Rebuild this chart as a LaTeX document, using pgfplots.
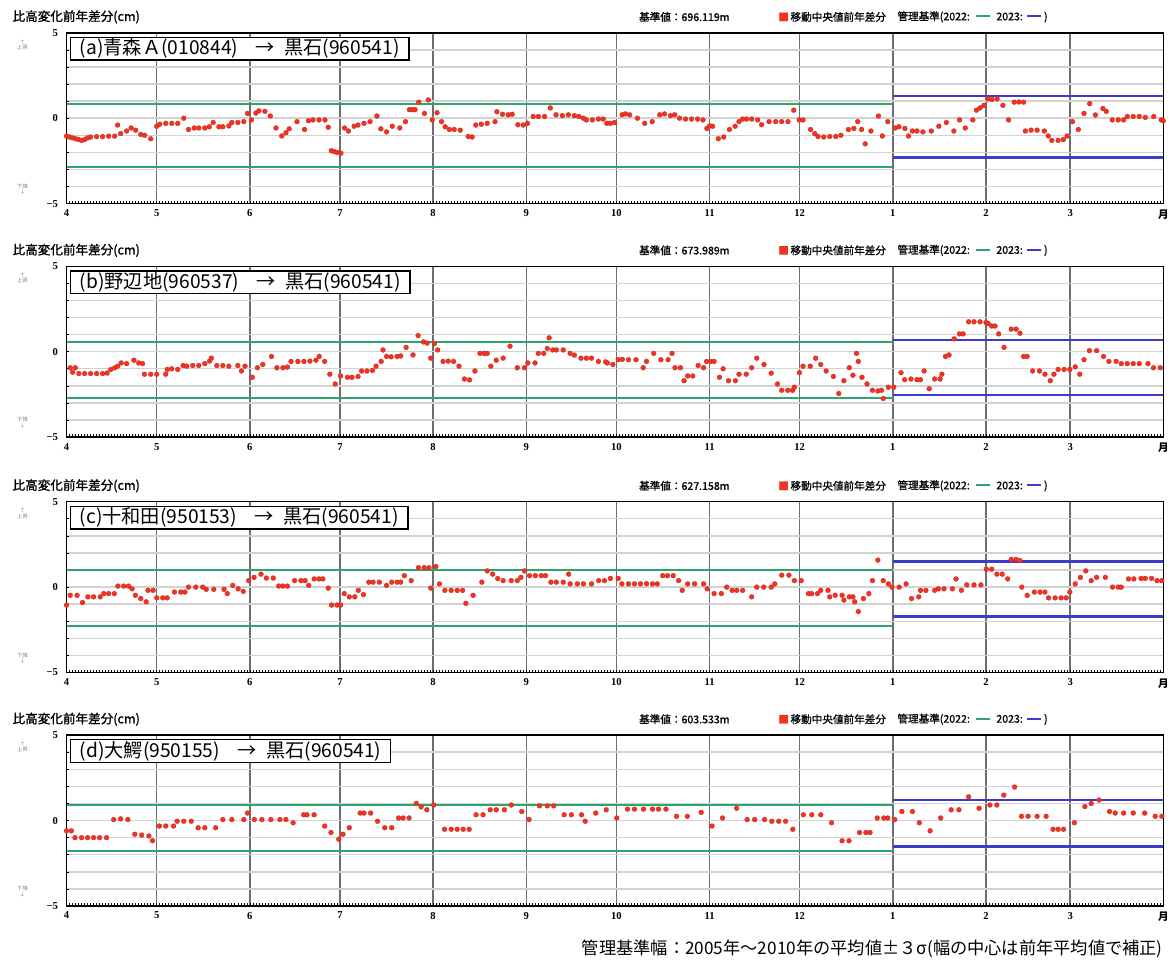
\documentclass[border=0pt]{standalone}
\usepackage{fontspec}
\setmainfont{Liberation Serif}
\newfontfamily\jp{Noto Sans CJK JP}
\newfontfamily\jpb{Noto Sans CJK JP}[FakeBold=1.2]
\usepackage{pgfplots}
\pgfplotsset{compat=1.18}
\usepackage{pgfplotstable}

\definecolor{dotred}{HTML}{F23222}
\definecolor{limgreen}{HTML}{2FA56E}
\definecolor{limblue}{HTML}{3C3CCC}
\definecolor{monthgray}{HTML}{6E6E6E}
\definecolor{hgrid}{HTML}{D2D2D2}

% day 0 = 1 April, 365 = end of March
\pgfplotstableread{
d v
0 -1.05
1 -1.1
2 -1.15
3 -1.2
4 -1.25
5 -1.3
6 -1.25
7 -1.15
8 -1.1
10 -1.08
12 -1.08
14 -1.05
16 -1.05
17 -0.4
18 -0.9
20 -0.75
21.5 -0.57
23 -0.7
24.7 -0.95
26 -1.0
28 -1.2
30 -0.47
31 -0.35
33 -0.3
35 -0.3
37 -0.3
39 0
40.6 -0.66
42.5 -0.57
44 -0.57
46 -0.57
47.5 -0.5
48.8 -0.25
50.7 -0.5
52 -0.5
54 -0.45
55 -0.25
57 -0.25
59 -0.2
60.2 0.28
61.5 -0.1
63 0.3
64 0.43
66 0.4
67.8 0.13
69.7 -0.57
71.6 -1.04
73 -0.85
74.1 -0.62
76.7 -0.2
79.2 -0.66
80.5 -0.15
82 -0.1
84 -0.1
86 -0.1
87.1 -0.53
88.1 -1.9
89 -1.95
90 -2.0
91.3 -2.05
92.5 -0.57
93.8 -0.75
95.7 -0.47
97 -0.4
99 -0.3
101 -0.2
103.3 0.13
104.6 -0.62
106.5 -0.8
108.4 -0.47
110.9 -0.57
112.8 -0.2
114.1 0.5
115 0.5
116 0.5
117.2 0.94
119.1 0.28
120.4 1.07
121.7 -0.1
123.3 0.32
124.8 -0.2
126 -0.5
127.4 -0.66
129 -0.66
131 -0.7
133.7 -1.07
135 -1.1
136.2 -0.4
138 -0.35
140 -0.3
142.6 -0.2
143.2 0.38
145.1 0.23
147 0.2
148.3 0.23
150.2 -0.38
152 -0.4
153.4 -0.3
155.3 0.1
157 0.1
159.1 0.1
161 0.6
162.9 0.2
165 0.15
167 0.2
169 0.15
170.5 0.1
172 0
173 -0.1
175 -0.1
177 -0.05
178.6 -0.05
179.8 -0.3
181 -0.3
182.4 -0.25
184.9 0.2
186 0.25
187.4 0.2
190 0
192.4 -0.3
194.9 -0.2
197.4 0.2
199 0.25
201 0.15
202.4 0.2
204 0
206 -0.05
208 -0.05
210 -0.05
211.8 -0.1
213.1 -0.6
214 -0.45
215 -0.47
216.9 -1.2
218.7 -1.1
220.6 -0.66
222.5 -0.47
223.8 -0.2
225 -0.05
226.3 -0.05
228 -0.05
230 -0.1
231.3 -0.38
233.8 -0.2
236 -0.2
238 -0.2
240.1 -0.2
242 0.47
243.8 -0.1
245.1 -0.1
247.6 -0.66
249 -0.9
250.1 -1.07
252 -1.1
254 -1.07
256 -1.07
257.7 -1.0
260.2 -0.66
262 -0.6
263.3 -0.2
264.6 -0.66
265.8 -1.5
267.7 -0.75
270.2 0.13
271.5 -1.04
273.3 -0.2
275.8 -0.57
277 -0.5
279 -0.6
280.2 -1.04
281.5 -0.75
283 -0.75
285 -0.8
287.8 -0.75
290.3 -0.47
292.8 -0.25
295.3 -0.75
297.2 -0.1
299.1 -0.57
301.6 -0.1
302.8 0.47
304 0.6
305.3 0.75
306.6 1.13
308 1.1
309.7 1.13
311.6 0.75
313.5 -0.1
315.4 0.94
317 0.95
318.5 0.94
319.1 -0.75
321 -0.7
323 -0.7
325.4 -0.75
326.7 -1.04
327.9 -1.3
330 -1.3
331.7 -1.25
333 -1.04
334.8 -0.2
336.7 -0.66
338.6 0.28
340.5 0.85
342.4 0.19
344.9 0.57
346 0.4
348 -0.1
350 -0.1
351.8 -0.1
353 0.1
355 0.1
357 0.1
359 0.05
361.8 0.1
364.3 -0.1
365 -0.15
}\dataa

\pgfplotstableread{
d v
1.2 -0.94
2 -1.2
2.9 -0.94
4.1 -1.28
6 -1.28
8 -1.28
10 -1.28
12 -1.28
13.5 -1.25
14.7 -1.04
16 -0.95
17 -0.85
18.2 -0.66
20 -0.7
22.4 -0.5
24 -0.66
25.3 -0.7
25.9 -1.32
28 -1.32
30 -1.32
33 -1.32
33.5 -1.04
35 -1.0
37 -1.04
38.8 -0.81
40 -0.85
42 -0.81
44 -0.81
46 -0.7
47.6 -0.55
48.2 -0.38
50 -0.81
52 -0.81
54 -0.85
57 -0.81
58.2 -1.13
59.4 -0.85
61.8 -1.5
63.5 -0.94
65.3 -0.75
68.2 -0.28
70 -0.94
72 -0.94
73.5 -0.9
74.7 -0.57
77 -0.57
79 -0.57
81 -0.55
83 -0.5
84.1 -0.28
85.9 -0.57
87.6 -1.32
89.4 -1.89
91.2 -1.42
93.5 -1.5
95 -1.5
97 -1.45
98.2 -1.13
100 -1.13
101.8 -1.1
103 -0.85
104.7 -0.57
105.3 0.1
106.5 -0.28
108 -0.3
110 -0.28
111.2 -0.25
113 0.25
115.3 -0.19
117 0.94
118.8 0.57
120 0.5
121.2 -0.38
122.4 0.47
123.5 0.1
125.3 -0.57
127 -0.55
128.8 -0.57
130.6 -0.85
132.4 -1.6
134.1 -1.65
135.9 -1.13
137.6 -0.1
139 -0.1
140 -0.1
141.2 -0.85
143 -0.5
145.3 -0.38
147.6 0.32
150 -0.94
152.4 -0.94
153.5 -0.66
155.9 -0.66
157 -0.1
158.8 -0.1
160 0.19
160.6 0.81
161.8 0.1
163 0.1
165.3 0.1
167.6 -0.1
169 -0.2
171.2 -0.38
173 -0.38
174.7 -0.38
177 -0.57
179.4 -0.6
180 -0.66
181.8 -0.75
183.6 -0.47
185 -0.45
187 -0.47
189.5 -0.47
191.9 -0.94
193 -0.57
195.4 -0.1
197.8 -0.47
200.2 -0.47
201.5 -0.1
202.5 -0.94
204.3 -0.94
205.5 -1.7
206.7 -1.42
208.4 -1.42
210.2 -0.81
212 -0.94
213 -0.57
214.4 -0.57
215.5 -0.57
217.3 -1.5
218.5 -1.0
220.3 -1.7
222.6 -1.7
223.8 -1.32
226.2 -1.32
228 -0.94
229.7 -0.38
232.1 -0.75
234.5 -1.26
236.6 -1.89
238 -2.26
240 -2.26
241.6 -2.26
242.2 -2.08
243.9 -1.23
245.1 -0.85
247.5 -0.85
249.3 -0.38
251 -0.75
252.8 -1.13
255.2 -1.45
257 -2.45
258.7 -1.7
260.5 -0.94
261.7 -1.38
262.9 -0.1
263.5 -0.57
264.7 -1.5
266.4 -1.89
268.2 -2.26
270 -2.3
271.2 -2.26
271.8 -2.74
273.5 -2.08
275.3 -2.08
277.7 -1.23
278.9 -1.64
281 -1.6
283 -1.64
284.2 -1.64
285.4 -1.13
287.1 -2.17
288.9 -1.6
290.7 -1.6
291.3 -1.32
292.5 -0.28
293.7 -0.19
295.4 0.75
297.2 1.04
298.4 1.04
300.2 1.75
302 1.75
304 1.75
306 1.7
306.7 1.65
307.9 1.5
309 1.5
310.2 1.04
312 0.25
314.4 1.32
316 1.32
317.3 1.08
318.5 -0.28
319.7 -0.28
321.5 -1.13
323.8 -1.13
325.6 -1.32
327.4 -1.7
328.6 -1.32
330 -1.04
332 -1.04
333.9 -1.04
335.7 -0.89
337.2 -1.32
338.6 -0.47
340.4 0.06
342.8 0.06
345.1 -0.28
346.9 -0.57
349.3 -0.57
351 -0.7
353 -0.7
355 -0.7
357 -0.7
359.9 -0.7
361.7 -0.94
364 -0.94
}\datab

\pgfplotstableread{
d v
0 -1.05
1.2 -0.48
3.5 -0.48
5.3 -0.9
7.1 -0.57
9 -0.57
11.2 -0.57
12.4 -0.38
14 -0.38
15.9 -0.38
17.1 0.06
19 0.06
20.6 0.06
21.8 -0.1
22.9 -0.48
24.7 -0.67
26.5 -0.86
27.1 -0.19
28.8 -0.19
30 -0.63
32 -0.63
33.5 -0.63
35.9 -0.29
38 -0.29
39.4 -0.29
40.6 0
43 0
45.3 0
46.5 -0.13
49 -0.13
52.4 -0.13
53.5 -0.38
55.3 0.1
57.1 -0.1
58.8 -0.25
60.6 0.38
62.4 0.57
64.7 0.76
66.5 0.53
68.8 0.53
70.6 0.06
72 0.06
73.5 0.06
75.9 0.38
78 0.38
79.4 0.38
80.6 0.1
82.4 0.48
84 0.48
85.3 0.48
87.1 -0.06
88.2 -1.05
90 -1.05
91.2 -1.05
92.4 -0.38
94.1 -0.57
95.9 -0.57
97.1 -0.19
98.8 -0.44
100.6 0.29
102 0.29
104.1 0.29
106.5 0.1
108.2 0.29
110 0.29
111.2 0.29
112.4 0.67
114.7 0.38
117.1 1.14
119 1.14
120.6 1.14
121.2 -0.06
122.9 1.2
124.1 0.19
125.9 -0.19
128 -0.19
130 -0.19
131.8 -0.19
132.9 -0.95
135.3 -0.48
138.2 0.29
140 0.95
141.8 0.76
143.5 0.5
145.3 0.38
148 0.38
150 0.38
151.2 0.57
152.4 0.95
154.1 0.67
156 0.67
158 0.67
159.4 0.67
161.2 0.29
163 0.29
165.3 0.29
167.1 0.76
167.6 0.19
170 0.19
172 0.19
174.7 0.19
177.1 0.38
179 0.38
181 0.51
183.6 0.51
184.8 0.19
187 0.19
189 0.19
191 0.19
193 0.2
195 0.19
196.6 0.19
198.4 0.67
200 0.67
201.9 0.67
203.7 0.38
204.9 -0.19
206.7 0.19
209 0.19
212 0.19
213.2 -0.1
215.5 -0.38
217.9 -0.38
219.7 0
221.5 -0.19
223 -0.19
225 -0.19
228 -0.57
229.7 0
232 0
234.5 0
235.7 0.19
238 0.7
240.4 0.7
242.2 0.38
244.5 0.38
246.9 -0.38
248 -0.38
249.9 -0.38
251 -0.19
253.4 -0.19
254 -0.57
255.8 -0.48
258.1 -0.48
258.7 -0.76
260.5 -0.57
261.7 -0.57
262.3 -0.86
263.5 -1.43
265.2 -0.67
267 -0.38
268.2 0.38
270 1.58
271.8 0.38
273.5 0.19
274.7 0
277.1 0
279.4 0.19
281.2 -0.67
283.6 -0.57
284.2 -0.19
286 -0.19
288.9 -0.19
290.1 -0.1
292 -0.1
294.8 -0.1
296 0.48
297.8 -0.19
299.6 0.13
302 0.13
304.3 0.13
306.1 1.05
307.9 1.05
309.6 0.76
311.4 0.76
313.2 0.48
314.4 1.62
316 1.62
317.3 1.55
317.9 0
319.7 -0.48
322.1 -0.29
324 -0.29
325.6 -0.29
326.8 -0.63
329 -0.63
331 -0.63
332.7 -0.63
333.9 -0.29
335.7 0.19
337.4 0.57
339.2 0.95
341 0.38
342.8 0.57
345.7 0.57
348.1 0
350 0
351 0
353.4 0.48
355.2 0.48
357.6 0.51
359 0.51
361.1 0.51
362.9 0.38
364.5 0.38
}\datac

\pgfplotstableread{
d v
0 -0.6
1.6 -0.6
2.8 -1.0
5 -1.0
7 -1.0
9 -1.0
11 -1.0
13.3 -1.0
15.7 0.06
18 0.1
20.4 0.06
22.7 -0.8
25 -0.85
27.4 -0.9
28.6 -1.18
30.9 -0.32
33 -0.32
35.6 -0.32
36.8 -0.04
39 -0.04
41.5 -0.04
43.8 -0.42
46 -0.42
49.6 -0.42
52 0.06
55 0.06
59 0.06
60.2 0.44
62.5 0.06
65 0.06
68 0.06
71 0.06
73 0.06
75.4 -0.13
78.9 0.34
80 0.34
82.4 0.34
85.9 -0.32
88 -0.7
90.6 -1.09
92 -0.8
94.1 -0.42
97.7 0.44
99 0.44
101.2 0.44
103.5 -0.04
105.9 -0.42
108.2 -0.42
110.5 0.15
112 0.15
114 0.15
116.4 1.0
118 0.8
119.9 0.63
122.2 0.91
125.8 -0.51
128 -0.51
130 -0.51
132 -0.51
134 -0.51
136.3 0.34
138.6 0.34
141 0.63
143 0.63
145.7 0.63
148 0.91
151.5 0.53
153.9 0.06
157.4 0.86
160 0.86
162.1 0.86
165.6 0.34
168 0.34
171.4 0.34
172.6 -0.04
176.1 0.44
179.6 0.63
183.1 0.15
186.7 0.67
189 0.67
192 0.67
195 0.67
197 0.67
199.5 0.67
203 0.25
206.6 0.25
211.2 0.48
214.8 -0.32
218.3 0.15
223 0.72
226.5 0.06
229 0.06
232.3 0.06
234.7 -0.04
237 -0.04
239.3 -0.04
241.7 -0.51
245.2 0.34
248 0.34
251 0.34
254.6 -0.13
258.1 -1.18
260.4 -1.18
263.9 -0.7
266 -0.7
267.4 -0.7
269.8 0.15
272 0.15
273.3 0.15
275.6 0.06
278 0.53
281.5 0.53
283.8 -0.13
287.4 -0.6
290.9 0.15
294.4 0.63
297 0.63
300.2 1.39
303.7 0.72
307.3 0.91
309.6 0.91
311.9 1.49
315.5 1.96
317.8 0.25
320 0.25
323 0.25
326 0.25
328.3 -0.51
330 -0.51
331.8 -0.51
335.4 -0.13
338.9 0.82
341 1.0
343.6 1.2
347.1 0.53
349 0.44
351.8 0.44
355 0.44
358.8 0.44
362.3 0.25
364.5 0.25
}\datad

\pgfplotsset{
  panel/.style={
    scale only axis, width=828pt, height=129pt,
    xmin=0, xmax=365, ymin=-5, ymax=5,
    axis line style={black, line width=1.1pt},
    xtick={0,30,61,91,122,153,183,214,244,275,306,334,365},
    xticklabels={4,5,6,7,8,9,10,11,12,1,2,3,{\jp 月}},
    minor xtick={0,1,...,365},
    ytick={-5,0,5}, yticklabels={−5,0,5},
    minor ytick={-4,-3,...,4},
    xmajorgrids, major x grid style={monthgray, line width=1pt},
    yminorgrids, minor y grid style={hgrid, line width=1.1pt},
    tick align=inside, xtick pos=bottom, ytick pos=left,
    major tick length=0pt, minor tick length=2.2pt,
    minor tick style={black, line width=0.5pt},
    ticklabel style={font=\bfseries\fontsize{8}{9}\selectfont},
    yticklabel style={xshift=-3pt},
    xticklabel style={yshift=-1pt},
  },
  dots/.style={only marks, mark=*, mark size=1.85pt,
    mark options={fill=dotred, draw=dotred!80!black, line width=0.2pt}},
  lim/.style={#1, line width=1.6pt},
}

\newcommand\hdr{\jpb\fontsize{8}{9}\selectfont}
\newcommand\limdash[1]{\textcolor{#1}{\rule[0.3em]{1.3em}{1.3pt}}}
\newcommand\arr{\hspace{0.9em}→\hspace{0.5em}}

% #1 top, #2 base value, #3 label, #4 table, #5/#6 2022 limits, #7/#8 2023 limits
\newcommand\panel[8]{%
\begin{scope}[yshift=#1]
\begin{axis}[panel, at={(50.25pt,0pt)}, anchor=north west]
  \addplot[lim=limgreen] coordinates {(0,#5) (275,#5)};
  \addplot[lim=limgreen] coordinates {(0,#6) (275,#6)};
  \addplot[lim=limblue] coordinates {(275,#7) (365,#7)};
  \addplot[lim=limblue] coordinates {(275,#8) (365,#8)};
  \addplot[dots] table[x=d, y=v] {#4};
  \node[draw=black, line width=1pt, fill=white, anchor=north west,
        inner xsep=7pt, inner ysep=1pt, xshift=2.5pt, yshift=-3pt,
        font=\jp\fontsize{14.5}{16}\selectfont] at (rel axis cs:0,1) {#3};
\end{axis}
\node[anchor=west, font=\jpb\fontsize{9.5}{10}\selectfont] at (6pt,12pt) {比高変化前年差分(cm)};
\node[anchor=west, font=\hdr] at (479pt,12pt) {基準値：#2};
\node[anchor=west, font=\hdr] at (584pt,12pt) {{\color{dotred}■}\,移動中央値前年差分};
\node[anchor=west, font=\hdr] at (674pt,12pt)
  {管理基準(2022:\hspace{0.6em}\limdash{limgreen}\hspace{0.6em}2023:\hspace{0.4em}\limdash{limblue}\hspace{0.3em})};
\node[font=\jp\fontsize{4}{4}\selectfont, gray, align=center] at (17pt,-9pt) {↑\\上昇};
\node[font=\jp\fontsize{4}{4}\selectfont, gray, align=center] at (17pt,-118pt) {下降\\↓};
\end{scope}}

\begin{document}
\begin{tikzpicture}
\path (0,0) rectangle (879.75pt,-727.5pt);
\panel{-24.75pt}{696.119m}{(a)青森Ａ(010844)\arr 黒石(960541)}{\dataa}{0.85}{-2.85}{1.3}{-2.3}
\panel{-201pt}{673.989m}{(b)野辺地(960537)\arr 黒石(960541)}{\datab}{0.55}{-2.7}{0.7}{-2.55}
\panel{-378.75pt}{627.158m}{(c)十和田(950153)\arr 黒石(960541)}{\datac}{1.0}{-2.3}{1.5}{-1.72}
\panel{-555pt}{603.533m}{(d)大鰐(950155)\arr 黒石(960541)}{\datad}{0.9}{-1.8}{1.2}{-1.52}
\node[anchor=east, inner sep=0pt, font=\jp\fontsize{13}{15}\selectfont] at (878pt,-716.25pt)
  {管理基準幅：2005年～2010年の平均値±３σ(幅の中心は前年平均値で補正)};
\end{tikzpicture}
\end{document}
